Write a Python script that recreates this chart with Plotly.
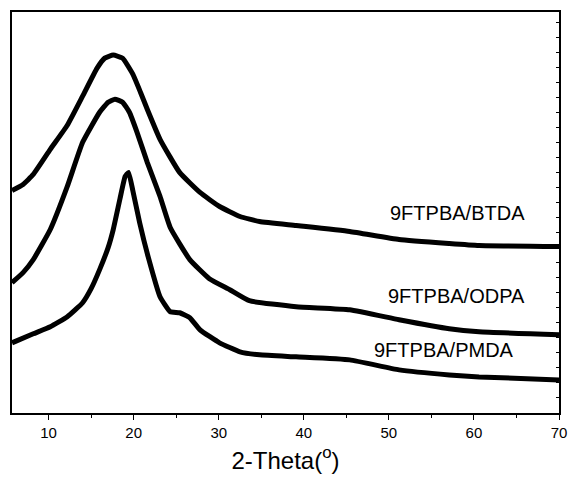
import plotly.graph_objects as go

# XRD patterns (2-theta in degrees, intensity in a.u., curves already offset)
btda_x = [5.7, 7.0, 8.2, 10.2, 12.2, 14.0, 15.7, 16.6, 17.6, 18.7, 19.9, 20.8, 21.6, 23.1,
          25.4, 27.8, 30.1, 32.5, 34.8, 39.1, 45.4, 51.2, 57.1, 60.6, 70.0]
btda_y = [222, 228, 238, 263, 287, 316, 344, 354, 357, 354, 338, 320, 303, 273,
          240, 220, 206, 196, 191, 187, 181, 173, 169, 167, 166]

odpa_x = [5.7, 7.0, 8.2, 10.2, 12.2, 14.0, 16.0, 17.0, 17.8, 18.7, 19.5, 20.4, 21.6, 23.1,
          24.3, 26.6, 28.9, 31.3, 33.6, 39.1, 45.4, 51.2, 57.1, 60.6, 70.0]
odpa_y = [130, 140, 153, 183, 226, 270, 300, 310, 313, 310, 300, 280, 250, 216,
          185, 153, 134, 123, 112, 106, 103, 93, 84, 81, 78]

pmda_x = [5.7, 8.2, 10.2, 12.2, 14.0, 15.0, 16.0, 17.0, 17.6, 18.4, 19.0, 19.4, 19.9, 20.7,
          21.7, 23.1, 24.3, 25.4, 26.6, 27.8, 30.1, 32.5, 34.8, 39.1, 45.4, 51.2, 57.1, 60.6, 70.0]
pmda_y = [70, 79, 86, 96, 110, 124, 143, 165, 183, 214, 236, 240, 222, 190,
          156, 116, 101, 100, 95, 83, 70, 61, 58, 56, 53, 43, 38, 36, 33]

labels = ["9FTPBA/BTDA", "9FTPBA/ODPA", "9FTPBA/PMDA"]
label_x = [66.2, 66.2, 65.0]
label_y = [200, 117, 63]

x_ticks = [10, 20, 30, 40, 50, 60, 70]

fig = go.Figure()
for xs, ys, name in [(btda_x, btda_y, labels[0]), (odpa_x, odpa_y, labels[1]), (pmda_x, pmda_y, labels[2])]:
    fig.add_trace(go.Scatter(x=xs, y=ys, mode="lines", name=name,
                             line=dict(color="black", width=5, shape="spline", smoothing=0.4)))

for t, lx, ly in zip(labels, label_x, label_y):
    fig.add_annotation(x=lx, y=ly, text=t, showarrow=False, xanchor="right", yanchor="middle",
                       font=dict(size=20, color="black", family="Liberation Sans, Arial"))

fig.update_layout(
    width=569, height=481,
    margin=dict(l=12, r=10, t=12, b=68),
    plot_bgcolor="white", paper_bgcolor="white",
    showlegend=False,
    font=dict(family="Liberation Sans, Arial", color="black"),
)
fig.update_xaxes(range=[5.7, 70], tickvals=x_ticks, ticks="outside", ticklen=5, tickwidth=1,
                 tickcolor="black", tickfont=dict(size=15), automargin=False,
                 minor=dict(dtick=5, tick0=0, ticks="outside", ticklen=3, tickcolor="black"),
                 showline=True, linecolor="black", linewidth=1.5, mirror=True, showgrid=False,
                 zeroline=False,
                 title=dict(text="2-Theta(<sup>o</sup>)", font=dict(size=24), standoff=12))
fig.update_yaxes(range=[0, 400], side="right", showticklabels=False, ticks="inside", ticklen=3,
                 dtick=15, tickcolor="black", showline=True, linecolor="black", linewidth=1.5,
                 mirror=True, showgrid=False, zeroline=False, automargin=False)

# drop the page's default body margin so the figure fills the window exactly
fig.write_html("out.html", config={"displayModeBar": False},
               post_script="document.body.style.margin='0';document.body.style.overflow='hidden';")
